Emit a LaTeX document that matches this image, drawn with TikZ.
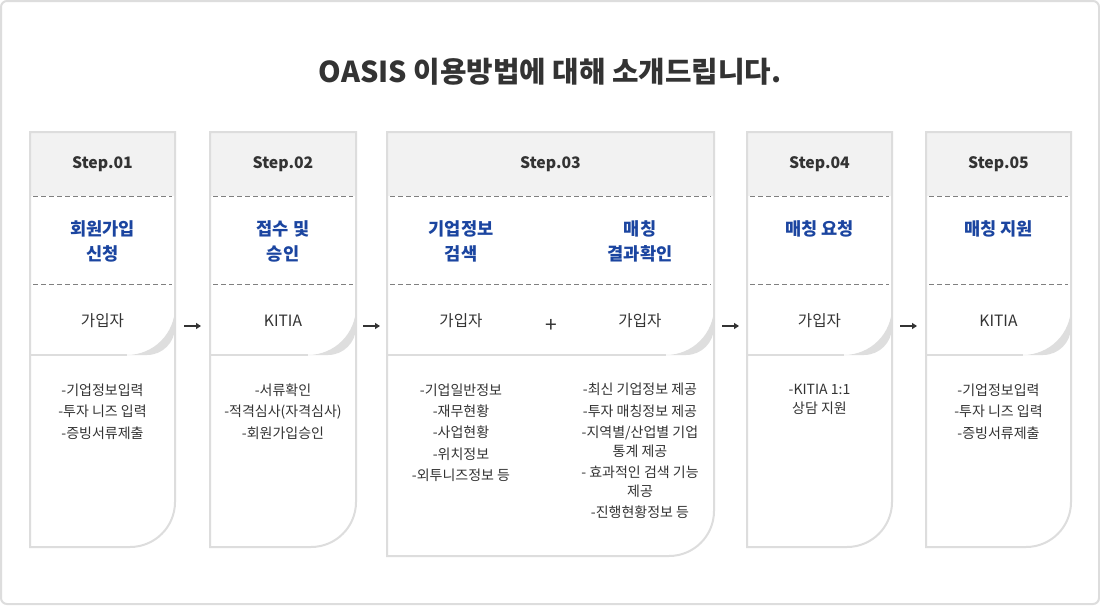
\documentclass[tikz,border=0pt]{standalone}
\usepackage{fontspec}
\setmainfont{Noto Sans CJK KR}
\usetikzlibrary{arrows.meta}
\definecolor{txt}{HTML}{333333}
\definecolor{blu}{HTML}{1B45A0}
\definecolor{bord}{HTML}{DDDDDD}
\definecolor{hdr}{HTML}{F2F2F2}
\definecolor{dashc}{HTML}{808080}
\definecolor{shad}{HTML}{DEDEDE}
\newcommand{\stepcolumn}[3]{%
  \fill[white] (#1,132) -- (#2,132) -- (#2,#3-45) arc[start angle=0,end angle=90,radius=45] -- (#1,#3) -- cycle;
  \fill[hdr] (#1,132) rectangle (#2,196);
  \fill[shad] (#2,307) arc[start angle=0,end angle=90,radius=48] -- (#2-28,355) arc[start angle=90,end angle=0,radius=28] -- cycle;
  \draw[bord,line width=2pt] (#1,355) -- (#2-48,355);
  \draw[dashline] (#1+3,196) -- (#2-3,196);
  \draw[dashline] (#1+3,284) -- (#2-3,284);
  \draw[bord,line width=2pt] (#1,132) -- (#2,132) -- (#2,#3-45) arc[start angle=0,end angle=90,radius=45] -- (#1,#3) -- cycle;
}
\tikzset{
  dashline/.style={dashc,line width=0.9pt,dash pattern=on 5pt off 3pt},
  steplabel/.style={text=txt,inner sep=0pt,font=\fontsize{15.8}{18}\selectfont\bfseries},
  bluetitle/.style={text=blu,inner sep=0pt,align=center,font=\fontsize{17.6}{25}\selectfont\bfseries},
  who/.style={text=txt,inner sep=0pt,font=\fontsize{15.6}{18}\selectfont},
  bullet/.style={text=txt,inner sep=0pt,align=center,font=\fontsize{14}{21.6}\selectfont},
  flow/.style={txt,line width=1.6pt,-{Triangle[length=5pt,width=6pt]}}
}
\begin{document}
\begin{tikzpicture}[x=1pt,y=-1pt]
\useasboundingbox (0,0) rectangle (1100,605);
\fill[white] (0,0) rectangle (1100,605);
\draw[bord,line width=2pt,rounded corners=6pt] (1,1) rectangle (1099,604);

\node[text=txt,inner sep=0pt,font=\fontsize{28.8}{32}\selectfont\bfseries] (title) at (550,72) {OASIS 이용방법에 대해 소개드립니다.};

\stepcolumn{30}{175}{547}
\stepcolumn{210}{356}{547}
\stepcolumn{387}{714}{556}
\stepcolumn{747}{892}{547}
\stepcolumn{926}{1071}{547}

% Step 1
\node[steplabel] (s1) at (102.5,164) {Step.01};
\node[bluetitle] (t1) at (102.5,241.5) {회원가입\\신청};
\node[who] (w1) at (102.5,321) {가입자};
\node[bullet] (b1) at (102.5,411.5) {-기업정보입력\\-투자 니즈 입력\\-증빙서류제출};

% Step 2
\node[steplabel] (s2) at (283,164) {Step.02};
\node[bluetitle] (t2) at (283,241.5) {접수 및\\승인};
\node[who] (w2) at (283,321) {KITIA};
\node[bullet] (b2) at (283,411.5) {-서류확인\\-적격심사(자격심사)\\-회원가입승인};

% Step 3
\node[steplabel] (s3) at (550.5,164) {Step.03};
\node[bluetitle] (t3a) at (461,241.5) {기업정보\\검색};
\node[bluetitle] (t3b) at (640,241.5) {매칭\\결과확인};
\node[who] (w3a) at (461,321) {가입자};
\node[who] (w3b) at (640,321) {가입자};
\node[text=txt,inner sep=0pt,font=\fontsize{21}{24}\selectfont] (plus) at (551,326) {+};
\node[bullet,font=\fontsize{14}{21.3}\selectfont] (b3a) at (461,432.5) {-기업일반정보\\-재무현황\\-사업현황\\-위치정보\\-외투니즈정보 등};
\node[bullet] (b3b) at (640,451) {-최신 기업정보 제공\\-투자 매칭정보 제공\\-지역별/산업별 기업\\[-3.2pt]통계 제공\\- 효과적인 검색 기능\\[-3.2pt]제공\\-진행현황정보 등};

% Step 4
\node[steplabel] (s4) at (819.5,164) {Step.04};
\node[bluetitle] (t4) at (819.5,229) {매칭 요청};
\node[who] (w4) at (819.5,321) {가입자};
\node[bullet] (b4) at (819.5,399.5) {-KITIA 1:1\\[-3.2pt]상담 지원};

% Step 5
\node[steplabel] (s5) at (998.5,164) {Step.05};
\node[bluetitle] (t5) at (998.5,229) {매칭 지원};
\node[who] (w5) at (998.5,321) {KITIA};
\node[bullet] (b5) at (998.5,411.5) {-기업정보입력\\-투자 니즈 입력\\-증빙서류제출};

% arrows
\coordinate (a1s) at (184,326); \coordinate (a1e) at (201,326);
\coordinate (a2s) at (363,326); \coordinate (a2e) at (380,326);
\coordinate (a3s) at (722,326); \coordinate (a3e) at (739,326);
\coordinate (a4s) at (900,326); \coordinate (a4e) at (917,326);
\draw[flow] (a1s) -- (a1e);
\draw[flow] (a2s) -- (a2e);
\draw[flow] (a3s) -- (a3e);
\draw[flow] (a4s) -- (a4e);
\end{tikzpicture}
\end{document}
